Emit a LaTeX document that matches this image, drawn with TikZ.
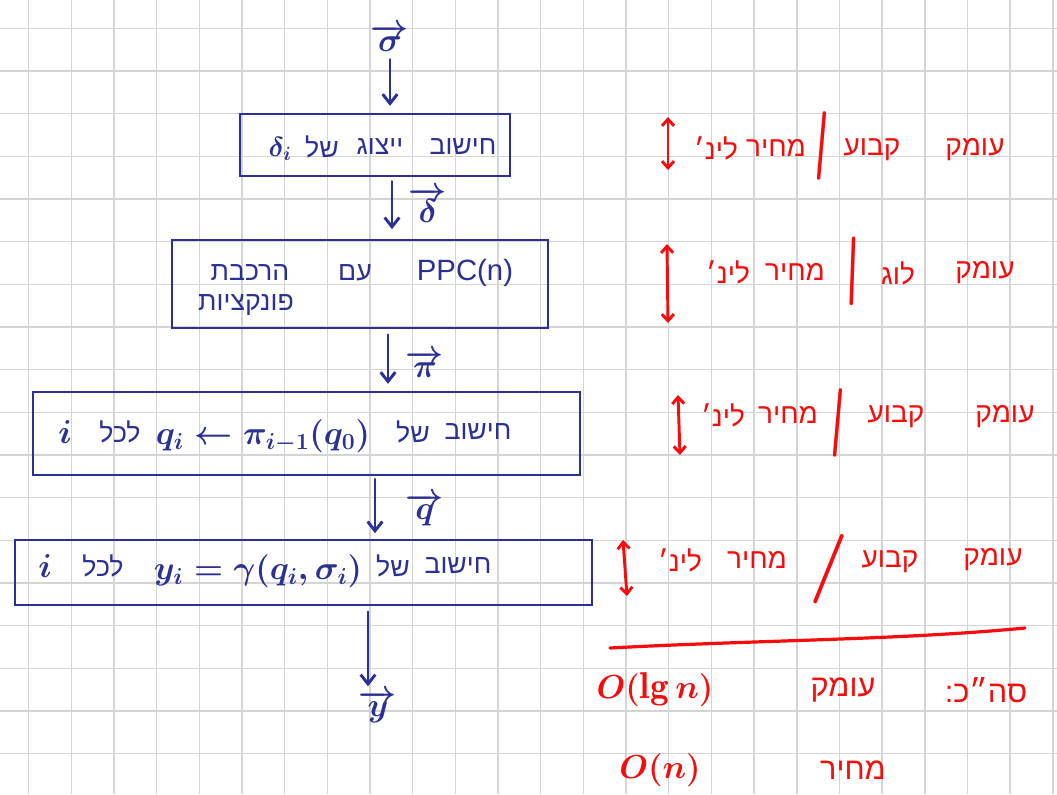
\documentclass[tikz,border=0pt]{standalone}
\usepackage{fontspec}
\newfontfamily\heb[Script=Hebrew]{Liberation Sans}
\newfontfamily\lat{Liberation Sans}
\TeXXeTstate=1
\usetikzlibrary{arrows.meta,fit}
\definecolor{ink}{RGB}{44,48,146}
\definecolor{pen}{RGB}{245,12,12}
\definecolor{gridc}{RGB}{212,212,212}
\newcommand{\hb}[1]{{\heb\beginR #1\endR}}
\begin{document}
\begin{tikzpicture}[x=0.75pt,y=-0.75pt,
  gridline/.style={gridc,line width=1.1pt},
  box/.style={draw=ink,line width=2.2pt,inner sep=0pt},
  btxt/.style={text=ink,font=\fontsize{20}{24}\selectfont\boldmath,inner sep=0pt},
  mtxt/.style={text=ink,font=\fontsize{24}{28}\selectfont\boldmath,inner sep=0pt},
  vtxt/.style={text=ink,font=\fontsize{32}{36}\selectfont\boldmath,inner sep=0pt},
  rtxt/.style={text=pen,font=\fontsize{21}{25}\selectfont\boldmath,inner sep=0pt},
  slash/.style={text=pen,font=\fontsize{48}{48}\selectfont\bfseries,inner sep=0pt},
  arr/.style={draw=ink,line width=2.2pt,line cap=round,-{Straight Barb[length=7pt,width=11pt]}},
  darr/.style={draw=pen,line width=2.2pt,line cap=round,{Straight Barb[length=5pt,width=9pt]}-{Straight Barb[length=5pt,width=9pt]}},
  redline/.style={draw=pen,line width=2.4pt,line cap=round}]
\fill[white] (0,0) rectangle (1057,794);
\useasboundingbox (0,0) rectangle (1057,794);
\foreach \i in {0,...,24} \draw[gridline] ({28.7+42.67*\i},0) -- ++(0,794);
\foreach \j in {0,...,17} \draw[gridline] (0,{28.3+42.67*\j}) -- ++(1057,0);

% ---------- boxes ----------
\node[box,fit={(240,114) (510,176)}] (b1) {};
\node[box,fit={(172,240) (548,328)}] (b2) {};
\node[box,fit={(33,392) (580,475)}] (b3) {};
\node[box,fit={(15,540) (592,605)}] (b4) {};

% box 1 text
\node[btxt] (b1a) at (463,147) {\hb{חישוב}};
\node[btxt] (b1b) at (380,147) {\hb{ייצוג}};
\node[btxt] (b1c) at (322,147) {\hb{של}};
\node[btxt,font=\fontsize{21}{24}\selectfont\boldmath] (b1d) at (280,149) {$\delta_i$};
% box 2 text
\node[btxt,font=\lat\fontsize{22}{26}\selectfont] (b2a) at (465,273) {PPC(n)};
\node[btxt] (b2b) at (355,273) {\hb{עם}};
\node[btxt] (b2c) at (250,273) {\hb{הרכבת}};
\node[btxt] (b2d) at (246,305) {\hb{פונקציות}};
% box 3 text
\node[btxt] (b3a) at (478,432) {\hb{חישוב}};
\node[btxt] (b3b) at (413,432) {\hb{של}};
\node[mtxt] (b3c) at (263,436) {$q_i \leftarrow \pi_{i-1}(q_0)$};
\node[btxt] (b3d) at (120,432) {\hb{לכל}};
\node[mtxt] (b3e) at (65,432) {$i$};
% box 4 text
\node[btxt] (b4a) at (458,566) {\hb{חישוב}};
\node[btxt] (b4b) at (393,566) {\hb{של}};
\node[mtxt,font=\fontsize{25}{29}\selectfont\boldmath] (b4c) at (258,571) {$y_i=\gamma(q_i,\sigma_i)$};
\node[btxt] (b4d) at (103,566) {\hb{לכל}};
\node[mtxt] (b4e) at (45,566) {$i$};

% ---------- vector labels ----------
\node[vtxt] (sig) at (390,38) {$\overrightarrow{\sigma}$};
\node[vtxt] (del) at (428,205) {$\overrightarrow{\delta}$};
\node[vtxt] (pi) at (425,364) {$\overrightarrow{\pi}$};
\node[vtxt] (qv) at (425,510) {$\overrightarrow{q}$};
\node[vtxt,font=\fontsize{40}{44}\selectfont\boldmath] (yv) at (378,707) {$\overrightarrow{y}$};

% ---------- arrows ----------
\coordinate (x0) at (390,0);
\coordinate (x1) at (392,0);
\coordinate (x2) at (388,0);
\coordinate (x3) at (375,0);
\coordinate (x4) at (368,0);
\draw[arr,shorten <=6pt,shorten >=5pt] (sig.south -| x0) -- (b1.north -| x0);
\draw[arr,shorten <=3pt,shorten >=7pt] (b1.south -| x1) -- (b2.north -| x1);
\draw[arr,shorten <=4pt,shorten >=5pt] (b2.south -| x2) -- (b3.north -| x2);
\draw[arr,shorten <=2pt,shorten >=4pt] (b3.south -| x3) -- (b4.north -| x3);
\draw[arr,shorten <=4pt,shorten >=3pt] (b4.south -| x4) -- (yv.north -| x4);

% ---------- red annotations ----------
\coordinate (r1t) at (668,117);
\coordinate (r1b) at (668,170);
\coordinate (r2t) at (667,244);
\coordinate (r2b) at (668,323);
\coordinate (r3t) at (678,395);
\coordinate (r3b) at (680,455);
\coordinate (r4t) at (623,540);
\coordinate (r4b) at (627,596);
\draw[darr] (r1t) -- (r1b);
\draw[darr] (r2t) -- (r2b);
\draw[darr] (r3t) -- (r3b);
\draw[darr] (r4t) -- (r4b);

\node[rtxt] (l1a) at (975,150) {\hb{עומק}};
\node[rtxt] (l1b) at (872,150) {\hb{קבוע}};
\node[slash,rotate=17] (l1s) at (822,146) {/};
\node[rtxt] (l1c) at (776,148) {\hb{מחיר}};
\node[rtxt] (l1d) at (716,148) {\hb{לינ׳}};

\node[rtxt] (l2a) at (985,273) {\hb{עומק}};
\node[rtxt] (l2b) at (898,273) {\hb{לוג}};
\node[slash,rotate=20] (l2s) at (853,271) {/};
\node[rtxt] (l2c) at (795,272) {\hb{מחיר}};
\node[rtxt] (l2d) at (728,272) {\hb{לינ׳}};

\node[rtxt] (l3a) at (1005,417) {\hb{עומק}};
\node[rtxt] (l3b) at (896,417) {\hb{קבוע}};
\node[slash,rotate=17] (l3s) at (838,423) {/};
\node[rtxt] (l3c) at (788,415) {\hb{מחיר}};
\node[rtxt] (l3d) at (723,415) {\hb{לינ׳}};

\node[rtxt] (l4a) at (993,560) {\hb{עומק}};
\node[rtxt] (l4b) at (890,562) {\hb{קבוע}};
\node[slash,font=\fontsize{52}{52}\selectfont\bfseries] (l4s) at (829,569) {/};
\node[rtxt] (l4c) at (757,560) {\hb{מחיר}};
\node[rtxt] (l4d) at (680,560) {\hb{לינ׳}};

\coordinate (ln1) at (610,648);
\coordinate (ln2) at (1025,628);
\draw[redline] (ln1) .. controls (760,640) and (900,640) .. (ln2);

\node[rtxt,font=\fontsize{23}{27}\selectfont] (s1) at (986,690) {\hb{סה״כ:}};
\node[rtxt,font=\fontsize{23}{27}\selectfont] (s2) at (843,690) {\hb{עומק}};
\node[rtxt,font=\fontsize{28}{32}\selectfont\boldmath] (s3) at (655,690) {$O(\lg n)$};
\node[rtxt,font=\fontsize{23}{27}\selectfont] (s4) at (853,770) {\hb{מחיר}};
\node[rtxt,font=\fontsize{28}{32}\selectfont\boldmath] (s5) at (660,770) {$O(n)$};
\end{tikzpicture}
\end{document}
